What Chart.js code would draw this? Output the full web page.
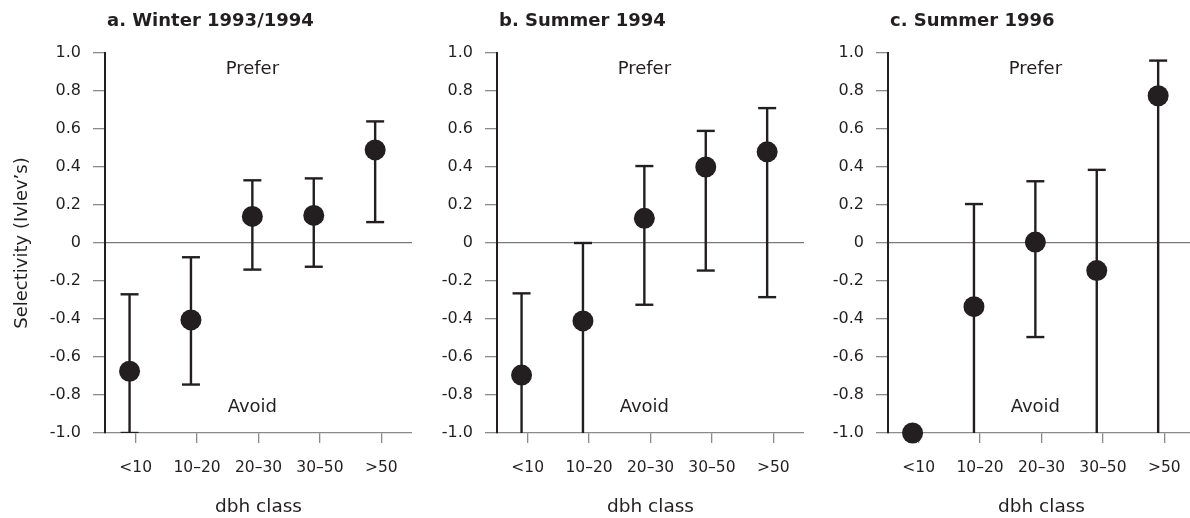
<!DOCTYPE html>
<html lang="en">
<head>
<meta charset="UTF-8">
<title>Selectivity by dbh class</title>
<script src="https://cdn.jsdelivr.net/npm/chart.js"></script>
<style>
  body { margin: 0; background: #fff; overflow: hidden; }
  canvas { position: absolute; top: 0; }
</style>
</head>
<body>
<canvas id="ca" width="412" height="518" style="left:0"></canvas>
<canvas id="cb" width="392" height="518" style="left:412px"></canvas>
<canvas id="cc" width="391" height="518" style="left:804px"></canvas>
<script>
// dbh classes and y ticks
const categories = ['<10', '10–20', '20–30', '30–50', '>50'];
const yTicks = [-1, -0.8, -0.6, -0.4, -0.2, 0, 0.2, 0.4, 0.6, 0.8, 1];

// Ivlev's selectivity, mean and error bar ends (below -1 = runs off the axis)
const winterMean  = [-0.675, -0.405, 0.14, 0.145, 0.49];
const winterUpper = [-0.27, -0.075, 0.33, 0.34, 0.64];
const winterLower = [-1.0, -0.745, -0.14, -0.125, 0.11];

const summer94Mean  = [-0.695, -0.41, 0.13, 0.40, 0.48];
const summer94Upper = [-0.265, 0.0, 0.405, 0.59, 0.71];
const summer94Lower = [-1.1, -1.1, -0.325, -0.145, -0.285];

const summer96Mean  = [-1.0, -0.335, 0.005, -0.145, 0.775];
const summer96Upper = [null, 0.205, 0.325, 0.385, 0.96];
const summer96Lower = [null, -1.1, -0.495, -1.1, -1.1];

const INK = '#231f20';
const GREY = '#8a8a8a';
const FONT = '"DejaVu Sans", sans-serif';

// error bars drawn under the dots
const errorBars = {
  id: 'errorBars',
  beforeDatasetsDraw(chart, args, opts) {
    const { ctx, chartArea, scales: { x, y } } = chart;
    ctx.save();
    ctx.beginPath();
    ctx.rect(chartArea.left, chartArea.top - 20, chartArea.width, chartArea.height + 20);
    ctx.clip();
    ctx.strokeStyle = INK;
    ctx.lineWidth = 2.4;
    opts.upper.forEach((hi, i) => {
      const lo = opts.lower[i];
      if (hi === null || lo === null) return;
      const px = x.getPixelForValue(i + 1);
      const yHi = y.getPixelForValue(hi);
      const yLo = y.getPixelForValue(Math.max(lo, -1));
      ctx.beginPath();
      ctx.moveTo(px, yHi);
      ctx.lineTo(px, yLo);
      ctx.stroke();
      [hi, lo].forEach(v => {
        if (v < -1 || v > 1) return;
        const py = y.getPixelForValue(v);
        ctx.beginPath();
        ctx.moveTo(px - 9, py);
        ctx.lineTo(px + 9, py);
        ctx.stroke();
      });
    });
    ctx.restore();
  }
};

// panel title plus Prefer / Avoid notes
const notes = {
  id: 'notes',
  afterDraw(chart, args, opts) {
    const { ctx, chartArea, scales: { x, y } } = chart;
    ctx.save();
    ctx.fillStyle = INK;
    ctx.textBaseline = 'middle';
    ctx.font = 'bold 18px ' + FONT;
    ctx.textAlign = 'left';
    ctx.fillText(opts.title, chartArea.left + 2, 21);
    ctx.font = '18px ' + FONT;
    ctx.textAlign = 'center';
    ctx.fillText('Prefer', x.getPixelForValue(3), y.getPixelForValue(0.915));
    ctx.fillText('Avoid', x.getPixelForValue(3), y.getPixelForValue(-0.865));
    ctx.restore();
  }
};

function makePanel(id, title, mean, upper, lower, axisWidth, showYTitle) {
  new Chart(document.getElementById(id), {
    type: 'scatter',
    data: {
      datasets: [{
        data: mean.map((v, i) => ({ x: i + 1, y: v })),
        backgroundColor: INK,
        borderWidth: 0,
        pointRadius: 10.5,
        clip: false
      }]
    },
    options: {
      responsive: false,
      animation: false,
      devicePixelRatio: 1,
      layout: { autoPadding: false, padding: { top: 53, left: 0, right: 0, bottom: 0 } },
      plugins: {
        legend: { display: false },
        tooltip: { enabled: false },
        errorBars: { upper: upper, lower: lower },
        notes: { title: title }
      },
      scales: {
        x: {
          type: 'linear',
          min: 0.6,
          max: 5.6,
          afterFit: s => { s.height = 85; s.paddingLeft = 0; s.paddingRight = 0; },
          afterBuildTicks: s => { s.ticks = categories.map((c, i) => ({ value: i + 1.1 })); },
          ticks: {
            callback: (v, i) => categories[i],
            autoSkip: false,
            maxRotation: 0,
            padding: 16,
            color: INK,
            font: { family: FONT, size: 15.5 }
          },
          grid: { drawOnChartArea: false, tickColor: GREY, tickLength: 10, lineWidth: 1.3 },
          border: { color: GREY, width: 1.3 },
          title: {
            display: true,
            text: 'dbh class',
            color: INK,
            font: { family: FONT, size: 18.5 },
            padding: { top: 0, bottom: 0 }
          }
        },
        y: {
          min: -1,
          max: 1,
          afterFit: s => { s.width = axisWidth; },
          afterBuildTicks: s => { s.ticks = yTicks.map(v => ({ value: v })); },
          ticks: {
            callback: v => (v === 0 ? '0' : v.toFixed(1)),
            padding: 12,
            color: INK,
            font: { family: FONT, size: 16 }
          },
          grid: {
            color: c => (c.tick && c.tick.value === 0 ? '#7a7a7a' : 'rgba(0,0,0,0)'),
            tickColor: GREY,
            tickLength: 12,
            lineWidth: 1.3
          },
          border: { color: INK, width: 2 },
          title: {
            display: showYTitle,
            text: 'Selectivity (Ivlev’s)',
            color: INK,
            font: { family: FONT, size: 18 },
            padding: { top: 12, bottom: 0 }
          }
        }
      }
    },
    plugins: [errorBars, notes]
  });
}

makePanel('ca', 'a. Winter 1993/1994', winterMean, winterUpper, winterLower, 105, true);
makePanel('cb', 'b. Summer 1994', summer94Mean, summer94Upper, summer94Lower, 85, false);
makePanel('cc', 'c. Summer 1996', summer96Mean, summer96Upper, summer96Lower, 84, false);
</script>
</body>
</html>
